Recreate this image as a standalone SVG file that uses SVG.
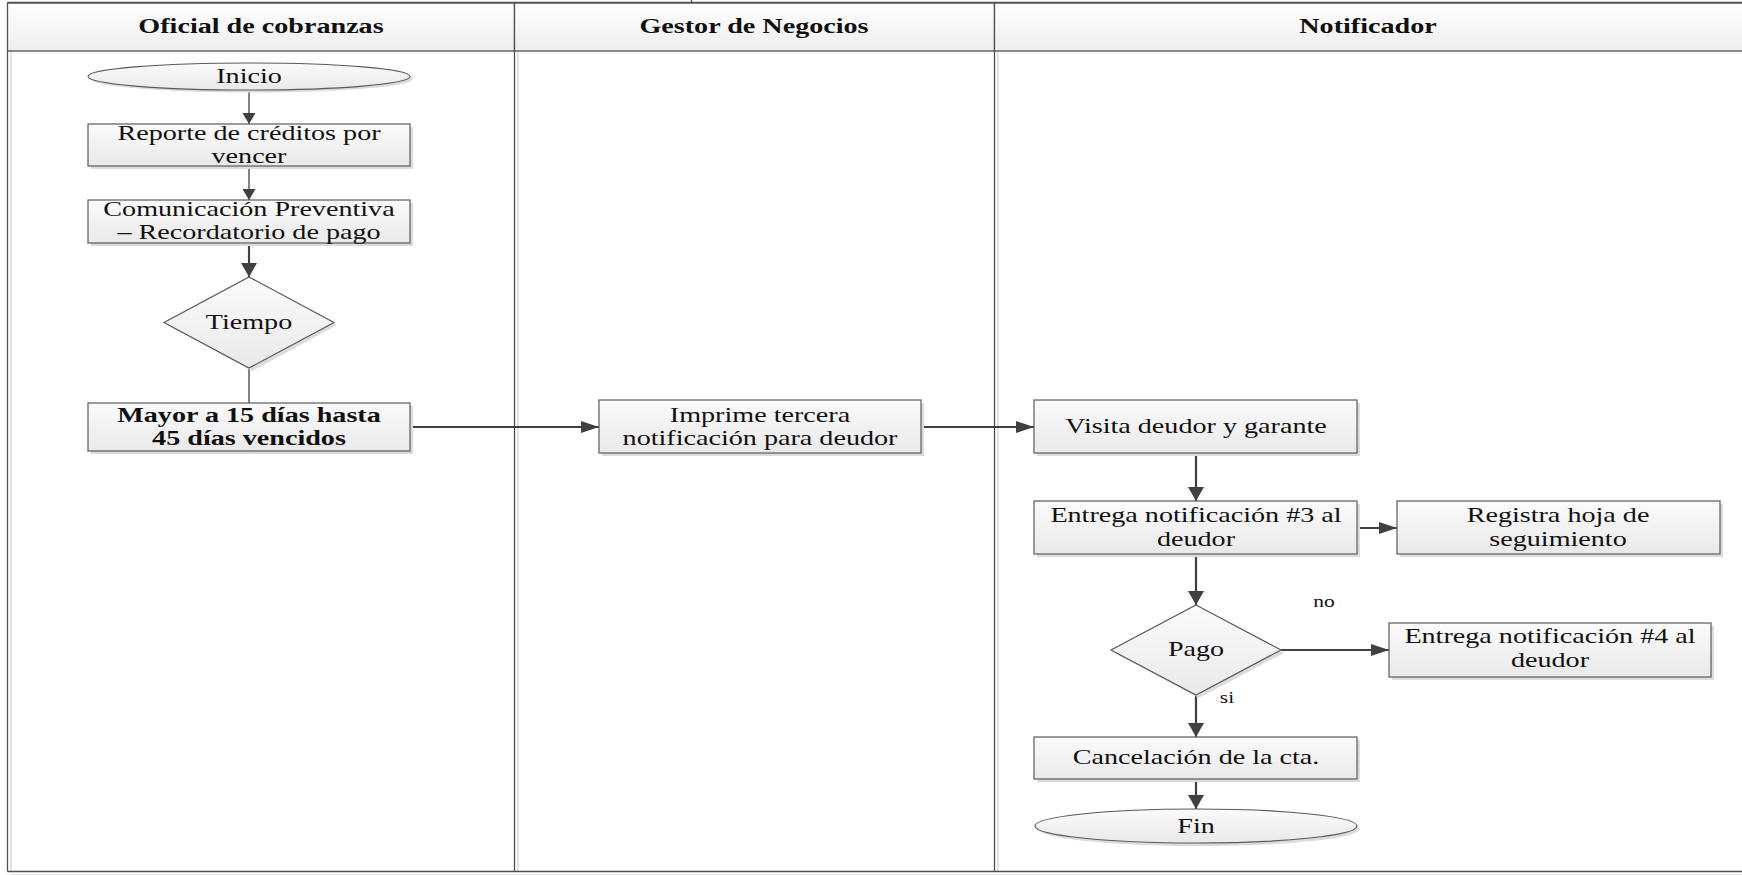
<svg xmlns="http://www.w3.org/2000/svg" width="1742" height="875" viewBox="0 0 1742 875">
  <style>
    .frame { stroke: #505050; stroke-width: 1.3; fill: none; }
    .faint { stroke: #e2e2e2; stroke-width: 2; fill: none; }
    .hdr { fill: url(#hdrGrad); stroke: #505050; stroke-width: 1.3; }
    .shape { fill: url(#boxGrad); stroke: #5a5a5a; stroke-width: 1.2; }
    .shadow { fill: #dcdcdc; }
    .t { font-family: "Liberation Serif", "Times New Roman", serif; font-size: 21px; fill: #111; text-anchor: middle; }
    .b { font-weight: bold; }
    .s { font-size: 16px; }
    .wire { stroke: #404040; stroke-width: 2.2; fill: none; }
    .thin { stroke: #404040; stroke-width: 1.3; fill: none; }
  </style>
  <defs>
    <linearGradient id="hdrGrad" x1="0" y1="0" x2="0" y2="1">
      <stop offset="0" stop-color="#ffffff"/>
      <stop offset="1" stop-color="#ededed"/>
    </linearGradient>
    <linearGradient id="boxGrad" x1="0" y1="0" x2="0" y2="1">
      <stop offset="0" stop-color="#fbfbfb"/>
      <stop offset="1" stop-color="#e9e9e9"/>
    </linearGradient>
    <marker id="ahV" markerWidth="14" markerHeight="18" refX="14" refY="9" orient="auto" markerUnits="userSpaceOnUse">
      <path d="M0,1 L14,9 L0,17 z" fill="#404040"/>
    </marker>
    <marker id="ahH" markerWidth="18" markerHeight="14" refX="18" refY="7" orient="auto" markerUnits="userSpaceOnUse">
      <path d="M0,1 L18,7 L0,13 z" fill="#404040"/>
    </marker>
    <marker id="ahT" markerWidth="11" markerHeight="16" refX="11" refY="8" orient="auto" markerUnits="userSpaceOnUse">
      <path d="M0,1.5 L11,8 L0,14.5 z" fill="#404040"/>
    </marker>
  </defs>

  <rect width="1742" height="875" fill="#ffffff"/>

  <!-- swimlane frame -->
  <g id="lanes">
    <line class="faint" x1="11" y1="51" x2="11" y2="871"/>
    <line class="faint" x1="518" y1="51" x2="518" y2="871"/>
    <line class="faint" x1="998" y1="51" x2="998" y2="871"/>
    <line class="faint" x1="11" y1="875" x2="1742" y2="875"/>
    <rect class="hdr" x="7.5" y="3" width="507" height="48"/>
    <rect class="hdr" x="514.5" y="3" width="480" height="48"/>
    <rect class="hdr" x="994.5" y="3" width="760" height="48"/>
    <line class="frame" x1="7.5" y1="2.5" x2="1742" y2="2.5"/>
    <line class="frame" x1="691.5" y1="0" x2="691.5" y2="3"/>
    <line class="frame" x1="7.5" y1="51" x2="7.5" y2="871.5"/>
    <line class="frame" x1="514.5" y1="51" x2="514.5" y2="871.5"/>
    <line class="frame" x1="994.5" y1="51" x2="994.5" y2="871.5"/>
    <line class="frame" x1="7.5" y1="871.5" x2="1742" y2="871.5"/>
    <text class="t b" transform="translate(261 0) scale(1.34 1)" y="33">Oficial de cobranzas</text>
    <text class="t b" transform="translate(754 0) scale(1.34 1)" y="33">Gestor de Negocios</text>
    <text class="t b" transform="translate(1368 0) scale(1.34 1)" y="33">Notificador</text>
  </g>

  <!-- connectors -->
  <g id="connectors">
    <line class="thin" x1="249" y1="90" x2="249" y2="124" marker-end="url(#ahT)"/>
    <line class="thin" x1="249" y1="166" x2="249" y2="200" marker-end="url(#ahT)"/>
    <line class="wire" x1="249" y1="243" x2="249" y2="277" marker-end="url(#ahV)"/>
    <line class="thin" x1="249" y1="368" x2="249" y2="403"/>
    <line class="wire" x1="410" y1="427" x2="599" y2="427" marker-end="url(#ahH)"/>
    <line class="wire" x1="921" y1="427" x2="1034" y2="427" marker-end="url(#ahH)"/>
    <line class="wire" x1="1196" y1="453" x2="1196" y2="501" marker-end="url(#ahV)"/>
    <line class="wire" x1="1357" y1="528" x2="1397" y2="528" marker-end="url(#ahH)"/>
    <line class="wire" x1="1196" y1="554" x2="1196" y2="605" marker-end="url(#ahV)"/>
    <line class="wire" x1="1281" y1="650" x2="1389" y2="650" marker-end="url(#ahH)"/>
    <line class="wire" x1="1196" y1="695" x2="1196" y2="737" marker-end="url(#ahV)"/>
    <line class="wire" x1="1196" y1="779" x2="1196" y2="809" marker-end="url(#ahV)"/>
    <text class="t s" transform="translate(1324 0) scale(1.34 1)" y="607">no</text>
    <text class="t s" transform="translate(1227 0) scale(1.34 1)" y="703">si</text>
  </g>

  <g id="inicio">
    <ellipse class="shadow" cx="252" cy="79" rx="161" ry="13.5"/>
    <ellipse class="shape" cx="249" cy="76.5" rx="161" ry="13.5"/>
    <text class="t" transform="translate(249 0) scale(1.34 1)" y="83">Inicio</text>
  </g>

  <g id="reporte">
    <rect class="shadow" x="91" y="127" width="322" height="42"/>
    <rect class="shape" x="88" y="124" width="322" height="42"/>
    <text class="t" transform="translate(249 0) scale(1.34 1)" y="140">Reporte de créditos por</text>
    <text class="t" transform="translate(249 0) scale(1.34 1)" y="163">vencer</text>
  </g>

  <g id="comunicacion">
    <rect class="shadow" x="91" y="203" width="322" height="43"/>
    <rect class="shape" x="88" y="200" width="322" height="43"/>
    <text class="t" transform="translate(249 0) scale(1.34 1)" y="216">Comunicación Preventiva</text>
    <text class="t" transform="translate(249 0) scale(1.34 1)" y="239">– Recordatorio de pago</text>
  </g>

  <g id="tiempo">
    <polygon class="shadow" points="252,280 337,325 252,371 167,325"/>
    <polygon class="shape" points="249,277 334,322.5 249,368 164,322.5"/>
    <text class="t" transform="translate(249 0) scale(1.34 1)" y="329">Tiempo</text>
  </g>

  <g id="mayor">
    <rect class="shadow" x="91" y="406" width="322" height="48"/>
    <rect class="shape" x="88" y="403" width="322" height="48"/>
    <text class="t b" transform="translate(249 0) scale(1.34 1)" y="422">Mayor a 15 días hasta</text>
    <text class="t b" transform="translate(249 0) scale(1.34 1)" y="445">45 días vencidos</text>
  </g>

  <g id="imprime">
    <rect class="shadow" x="602" y="403" width="322" height="53"/>
    <rect class="shape" x="599" y="400" width="322" height="53"/>
    <text class="t" transform="translate(760 0) scale(1.34 1)" y="422">Imprime tercera</text>
    <text class="t" transform="translate(760 0) scale(1.34 1)" y="445">notificación para deudor</text>
  </g>

  <g id="visita">
    <rect class="shadow" x="1037" y="403" width="323" height="53"/>
    <rect class="shape" x="1034" y="400" width="323" height="53"/>
    <text class="t" transform="translate(1196 0) scale(1.34 1)" y="433">Visita deudor y garante</text>
  </g>

  <g id="entrega3">
    <rect class="shadow" x="1037" y="504" width="323" height="53"/>
    <rect class="shape" x="1034" y="501" width="323" height="53"/>
    <text class="t" transform="translate(1196 0) scale(1.34 1)" y="522">Entrega notificación #3 al</text>
    <text class="t" transform="translate(1196 0) scale(1.34 1)" y="546">deudor</text>
  </g>

  <g id="registra">
    <rect class="shadow" x="1400" y="504" width="323" height="53"/>
    <rect class="shape" x="1397" y="501" width="323" height="53"/>
    <text class="t" transform="translate(1558 0) scale(1.34 1)" y="522">Registra hoja de</text>
    <text class="t" transform="translate(1558 0) scale(1.34 1)" y="546">seguimiento</text>
  </g>

  <g id="pago">
    <polygon class="shadow" points="1199,608 1284,653 1199,698 1114,653"/>
    <polygon class="shape" points="1196,605 1281,650 1196,695 1111,650"/>
    <text class="t" transform="translate(1196 0) scale(1.34 1)" y="656">Pago</text>
  </g>

  <g id="entrega4">
    <rect class="shadow" x="1392" y="626" width="322" height="54"/>
    <rect class="shape" x="1389" y="623" width="322" height="54"/>
    <text class="t" transform="translate(1550 0) scale(1.34 1)" y="643">Entrega notificación #4 al</text>
    <text class="t" transform="translate(1550 0) scale(1.34 1)" y="667">deudor</text>
  </g>

  <g id="cancelacion">
    <rect class="shadow" x="1037" y="740" width="323" height="42"/>
    <rect class="shape" x="1034" y="737" width="323" height="42"/>
    <text class="t" transform="translate(1196 0) scale(1.34 1)" y="764">Cancelación de la cta.</text>
  </g>

  <g id="fin">
    <ellipse class="shadow" cx="1199" cy="829" rx="161" ry="17"/>
    <ellipse class="shape" cx="1196" cy="826" rx="161" ry="17"/>
    <text class="t" transform="translate(1196 0) scale(1.34 1)" y="833">Fin</text>
  </g>
</svg>
